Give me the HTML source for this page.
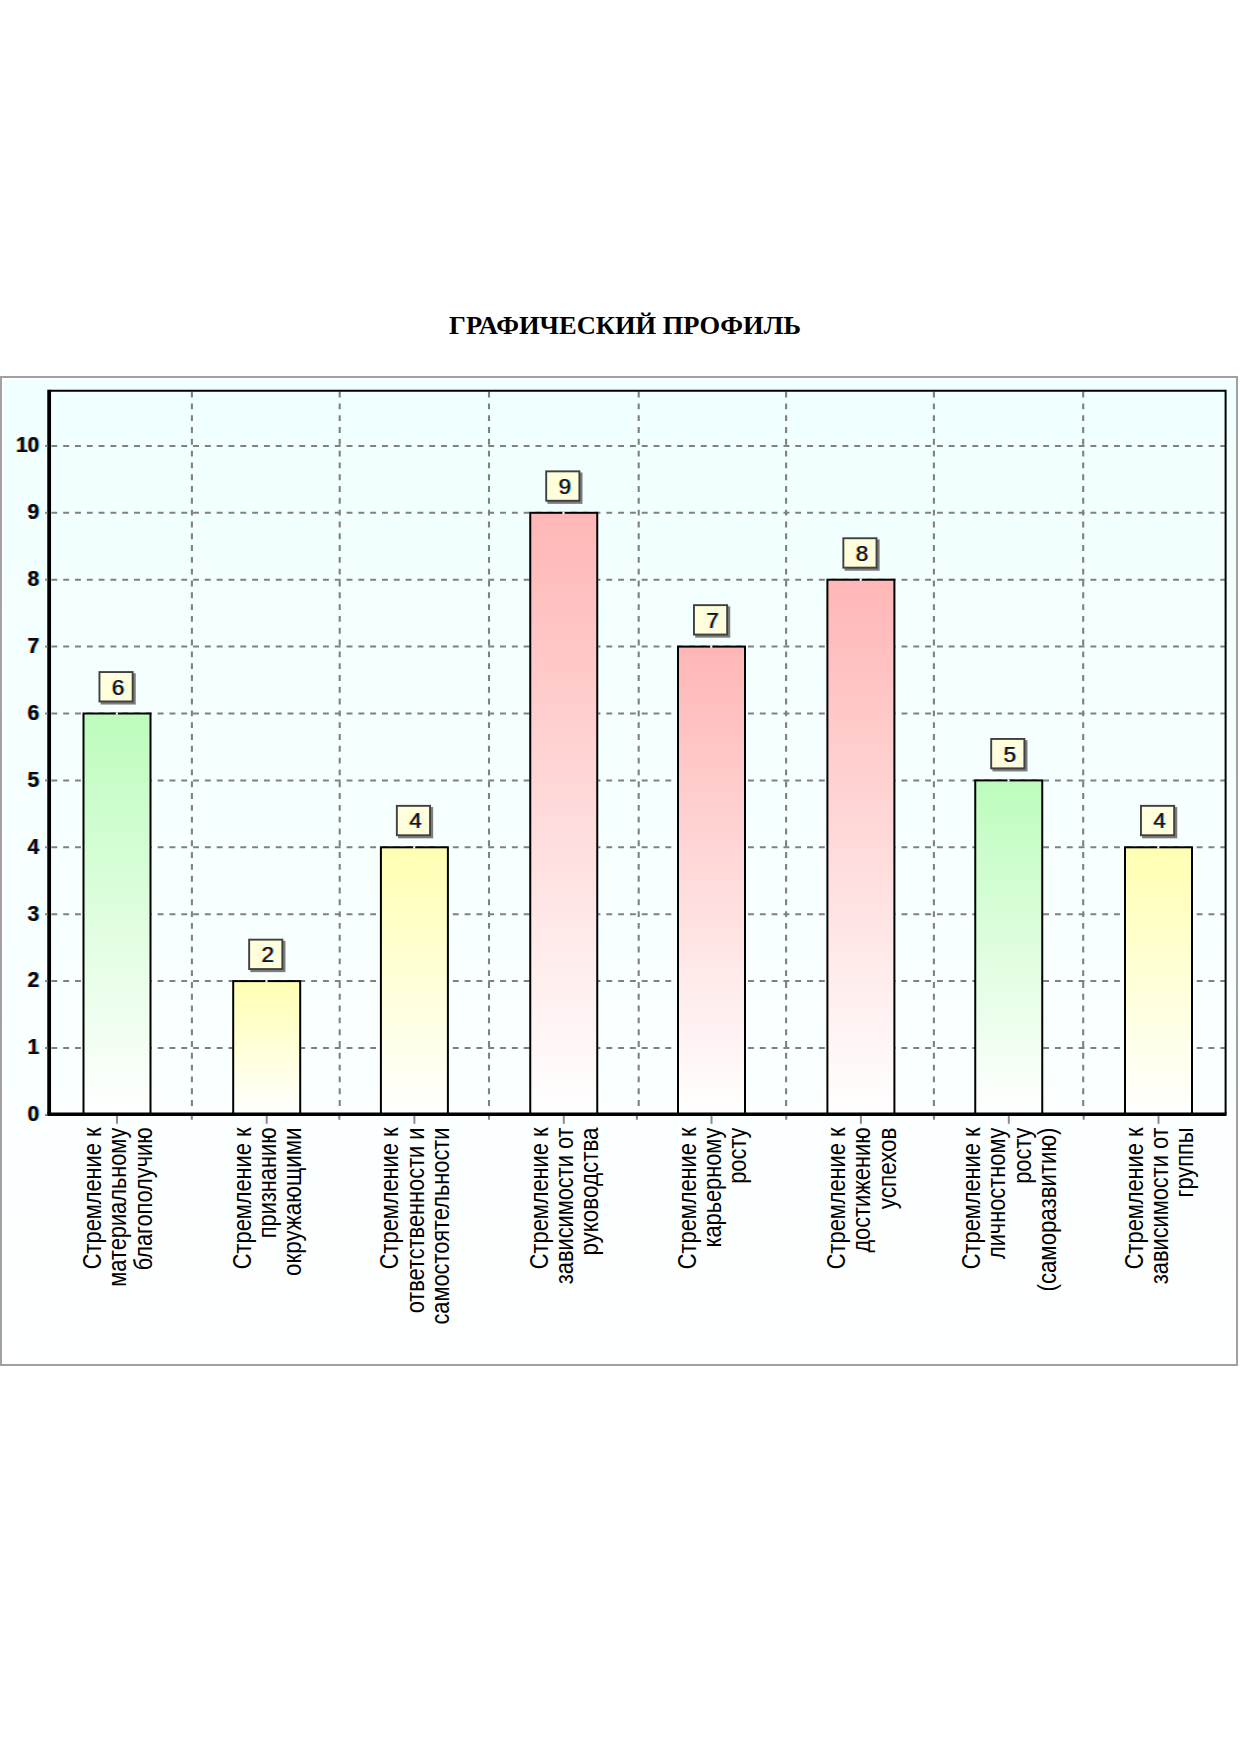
<!DOCTYPE html>
<html lang="ru">
<head>
<meta charset="utf-8">
<title>Графический профиль</title>
<style>
html,body{margin:0;padding:0;background:#fff;}
body{width:1240px;height:1754px;position:relative;overflow:hidden;font-family:"Liberation Sans",sans-serif;}
h1{position:absolute;left:0;top:307.6px;width:1250px;margin:0;text-align:center;font-family:"Liberation Serif",serif;font-weight:bold;font-size:25.4px;line-height:34px;color:#000;white-space:nowrap;transform:scaleX(1.043);transform-origin:625px 0;}
svg{position:absolute;left:0;top:0;}
.yl{font-family:"Liberation Sans",sans-serif;font-weight:bold;font-size:21.5px;fill:#0a0a14;text-anchor:end;}
.vl{font-family:"Liberation Sans",sans-serif;font-size:22.4px;fill:#101018;text-anchor:middle;}
.xl{font-family:"Liberation Sans",sans-serif;font-size:21.8px;fill:#000;text-anchor:end;}
.fo{fill:#f5a030 !important;fill-opacity:.85;}
.fb{fill:#3aa0f0 !important;fill-opacity:.85;}
.gh{stroke:#808080;stroke-width:2;stroke-dasharray:5.9 5.907;fill:none;}
.gv{stroke:#808080;stroke-width:2.1;stroke-dasharray:5.9 5.908;fill:none;}
.tk{stroke:#8a8a8a;stroke-width:2;fill:none;}
.bar{stroke:#000;stroke-width:2;}
.box{fill:#fefedd;stroke:#404040;stroke-width:1.9;}
.sh{fill:#7d7d7d;}
</style>
</head>
<body>
<h1>ГРАФИЧЕСКИЙ ПРОФИЛЬ</h1>
<svg width="1240" height="1754" viewBox="0 0 1240 1754">
<defs>
<linearGradient id="bg" x1="0" y1="0" x2="0" y2="1"><stop offset="0" stop-color="#f0ffff"/><stop offset="1" stop-color="#ffffff"/></linearGradient>
<linearGradient id="g" x1="0" y1="0" x2="0" y2="1"><stop offset="0" stop-color="#bdfcbd"/><stop offset="1" stop-color="#ffffff"/></linearGradient>
<linearGradient id="y" x1="0" y1="0" x2="0" y2="1"><stop offset="0" stop-color="#ffffb2"/><stop offset="1" stop-color="#ffffff"/></linearGradient>
<linearGradient id="r" x1="0" y1="0" x2="0" y2="1"><stop offset="0" stop-color="#ffb6b6"/><stop offset="1" stop-color="#ffffff"/></linearGradient>
</defs>
<!-- panel -->
<rect x="1" y="377" width="1236" height="988" fill="url(#bg)" stroke="#a0a0a0" stroke-width="2"/>
<path d="M2.7 1364V378.7H1236" fill="none" stroke="#ffffff" stroke-width="1.5"/>

<!-- grid -->
<path class="gh" d="M51.4 1048.0H1225"/>
<path class="gh" d="M51.4 981.1H1225"/>
<path class="gh" d="M51.4 914.2H1225"/>
<path class="gh" d="M51.4 847.3H1225"/>
<path class="gh" d="M51.4 780.4H1225"/>
<path class="gh" d="M51.4 713.5H1225"/>
<path class="gh" d="M51.4 646.6H1225"/>
<path class="gh" d="M51.4 579.7H1225"/>
<path class="gh" d="M51.4 512.8H1225"/>
<path class="gh" d="M51.4 445.9H1225"/>
<path class="gv" d="M191.9 391.6V1112"/>
<path class="tk" d="M191.8 1116V1119.7" style="stroke:#808080;stroke-width:2.1"/>
<path class="gv" d="M339.7 391.6V1112"/>
<path class="tk" d="M339.3 1116V1119.7" style="stroke:#808080;stroke-width:2.1"/>
<path class="gv" d="M489.0 391.6V1112"/>
<path class="tk" d="M489.0 1116V1119.7" style="stroke:#808080;stroke-width:2.1"/>
<path class="gv" d="M638.7 391.6V1112"/>
<path class="tk" d="M636.9 1116V1119.7" style="stroke:#808080;stroke-width:2.1"/>
<path class="gv" d="M786.1 391.6V1112"/>
<path class="tk" d="M786.2 1116V1119.7" style="stroke:#808080;stroke-width:2.1"/>
<path class="gv" d="M933.9 391.6V1112"/>
<path class="tk" d="M934.0 1116V1119.7" style="stroke:#808080;stroke-width:2.1"/>
<path class="gv" d="M1083.2 391.6V1112"/>
<path class="tk" d="M1083.7 1116V1119.7" style="stroke:#808080;stroke-width:2.1"/>
<!-- bars -->
<rect class="bar" x="83.50" y="713.5" width="67.0" height="400.5" fill="url(#g)"/>
<rect class="bar" x="233.20" y="981.1" width="67.0" height="132.9" fill="url(#y)"/>
<rect class="bar" x="380.90" y="847.3" width="67.0" height="266.7" fill="url(#y)"/>
<rect class="bar" x="530.25" y="512.8" width="67.0" height="601.2" fill="url(#r)"/>
<rect class="bar" x="678.00" y="646.6" width="67.0" height="467.4" fill="url(#r)"/>
<rect class="bar" x="827.40" y="579.7" width="67.0" height="534.3" fill="url(#r)"/>
<rect class="bar" x="975.25" y="780.4" width="67.0" height="333.6" fill="url(#g)"/>
<rect class="bar" x="1125.00" y="847.3" width="67.0" height="266.7" fill="url(#y)"/>
<!-- axes -->
<path d="M49.15 390.75H1225.6V1114" fill="none" stroke="#000" stroke-width="2"/>
<path d="M49.15 389.8V1116" fill="none" stroke="#000" stroke-width="3.8"/>
<path d="M47.3 1114.25H1226.6" fill="none" stroke="#000" stroke-width="3.6"/>
<path class="tk" d="M45 1115.0H47.4"/>
<text class="yl fo" transform="translate(38.3 1121.2) scale(0.97 1)">0</text>
<text class="yl fb" transform="translate(40.1 1121.2) scale(0.97 1)">0</text>
<text class="yl" transform="translate(39.2 1121.2) scale(0.97 1)">0</text>
<path class="tk" d="M45 1048.0H47.4"/>
<text class="yl fo" transform="translate(38.3 1054.3) scale(0.97 1)">1</text>
<text class="yl fb" transform="translate(40.1 1054.3) scale(0.97 1)">1</text>
<text class="yl" transform="translate(39.2 1054.3) scale(0.97 1)">1</text>
<path class="tk" d="M45 981.1H47.4"/>
<text class="yl fo" transform="translate(38.3 987.4) scale(0.97 1)">2</text>
<text class="yl fb" transform="translate(40.1 987.4) scale(0.97 1)">2</text>
<text class="yl" transform="translate(39.2 987.4) scale(0.97 1)">2</text>
<path class="tk" d="M45 914.2H47.4"/>
<text class="yl fo" transform="translate(38.3 920.5) scale(0.97 1)">3</text>
<text class="yl fb" transform="translate(40.1 920.5) scale(0.97 1)">3</text>
<text class="yl" transform="translate(39.2 920.5) scale(0.97 1)">3</text>
<path class="tk" d="M45 847.3H47.4"/>
<text class="yl fo" transform="translate(38.3 853.6) scale(0.97 1)">4</text>
<text class="yl fb" transform="translate(40.1 853.6) scale(0.97 1)">4</text>
<text class="yl" transform="translate(39.2 853.6) scale(0.97 1)">4</text>
<path class="tk" d="M45 780.4H47.4"/>
<text class="yl fo" transform="translate(38.3 786.7) scale(0.97 1)">5</text>
<text class="yl fb" transform="translate(40.1 786.7) scale(0.97 1)">5</text>
<text class="yl" transform="translate(39.2 786.7) scale(0.97 1)">5</text>
<path class="tk" d="M45 713.5H47.4"/>
<text class="yl fo" transform="translate(38.3 719.8) scale(0.97 1)">6</text>
<text class="yl fb" transform="translate(40.1 719.8) scale(0.97 1)">6</text>
<text class="yl" transform="translate(39.2 719.8) scale(0.97 1)">6</text>
<path class="tk" d="M45 646.6H47.4"/>
<text class="yl fo" transform="translate(38.3 652.9) scale(0.97 1)">7</text>
<text class="yl fb" transform="translate(40.1 652.9) scale(0.97 1)">7</text>
<text class="yl" transform="translate(39.2 652.9) scale(0.97 1)">7</text>
<path class="tk" d="M45 579.7H47.4"/>
<text class="yl fo" transform="translate(38.3 586.0) scale(0.97 1)">8</text>
<text class="yl fb" transform="translate(40.1 586.0) scale(0.97 1)">8</text>
<text class="yl" transform="translate(39.2 586.0) scale(0.97 1)">8</text>
<path class="tk" d="M45 512.8H47.4"/>
<text class="yl fo" transform="translate(38.3 519.1) scale(0.97 1)">9</text>
<text class="yl fb" transform="translate(40.1 519.1) scale(0.97 1)">9</text>
<text class="yl" transform="translate(39.2 519.1) scale(0.97 1)">9</text>
<path class="tk" d="M45 445.9H47.4"/>
<text class="yl fo" transform="translate(38.3 452.2) scale(0.97 1)">10</text>
<text class="yl fb" transform="translate(40.1 452.2) scale(0.97 1)">10</text>
<text class="yl" transform="translate(39.2 452.2) scale(0.97 1)">10</text>
<path class="tk" d="M117.0 1116V1123.8"/>
<path class="tk" d="M266.7 1116V1123.8"/>
<path class="tk" d="M414.4 1116V1123.8"/>
<path class="tk" d="M563.8 1116V1123.8"/>
<path class="tk" d="M711.5 1116V1123.8"/>
<path class="tk" d="M860.9 1116V1123.8"/>
<path class="tk" d="M1008.8 1116V1123.8"/>
<path class="tk" d="M1158.5 1116V1123.8"/>
<!-- value marks -->
<rect class="sh" x="100.65" y="673.25" width="35.10" height="31.30"/>
<rect class="box" x="99.45" y="672.05" width="33.20" height="29.40"/>
<path d="M116.8 705.5V712.5" stroke="#fff" stroke-width="2.1" stroke-opacity="0.6"/>
<path d="M116.8 712.5V714.7" stroke="#fff" stroke-width="2.1"/>
<text class="vl fo" transform="translate(117.1 694.6) scale(1.0 1)">6</text>
<text class="vl fb" transform="translate(118.9 694.6) scale(1.0 1)">6</text>
<text class="vl" transform="translate(118.0 694.6) scale(1.0 1)">6</text>
<rect class="sh" x="250.35" y="940.85" width="35.10" height="31.30"/>
<rect class="box" x="249.15" y="939.65" width="33.20" height="29.40"/>
<path d="M266.5 973.1V980.1" stroke="#fff" stroke-width="2.1" stroke-opacity="0.6"/>
<path d="M266.5 980.1V982.3" stroke="#fff" stroke-width="2.1"/>
<text class="vl fo" transform="translate(266.8 962.2) scale(1.0 1)">2</text>
<text class="vl fb" transform="translate(268.6 962.2) scale(1.0 1)">2</text>
<text class="vl" transform="translate(267.7 962.2) scale(1.0 1)">2</text>
<rect class="sh" x="398.05" y="807.05" width="35.10" height="31.30"/>
<rect class="box" x="396.85" y="805.85" width="33.20" height="29.40"/>
<path d="M414.2 839.3V846.3" stroke="#fff" stroke-width="2.1" stroke-opacity="0.6"/>
<path d="M414.2 846.3V848.5" stroke="#fff" stroke-width="2.1"/>
<text class="vl fo" transform="translate(414.5 828.4) scale(1.0 1)">4</text>
<text class="vl fb" transform="translate(416.3 828.4) scale(1.0 1)">4</text>
<text class="vl" transform="translate(415.4 828.4) scale(1.0 1)">4</text>
<rect class="sh" x="547.40" y="472.55" width="35.10" height="31.30"/>
<rect class="box" x="546.20" y="471.35" width="33.20" height="29.40"/>
<path d="M563.5 504.8V511.8" stroke="#fff" stroke-width="2.1" stroke-opacity="0.6"/>
<path d="M563.5 511.8V514.0" stroke="#fff" stroke-width="2.1"/>
<text class="vl fo" transform="translate(563.9 493.9) scale(1.0 1)">9</text>
<text class="vl fb" transform="translate(565.6 493.9) scale(1.0 1)">9</text>
<text class="vl" transform="translate(564.8 493.9) scale(1.0 1)">9</text>
<rect class="sh" x="695.15" y="606.35" width="35.10" height="31.30"/>
<rect class="box" x="693.95" y="605.15" width="33.20" height="29.40"/>
<path d="M711.3 638.6V645.6" stroke="#fff" stroke-width="2.1" stroke-opacity="0.6"/>
<path d="M711.3 645.6V647.8" stroke="#fff" stroke-width="2.1"/>
<text class="vl fo" transform="translate(711.6 627.7) scale(1.0 1)">7</text>
<text class="vl fb" transform="translate(713.4 627.7) scale(1.0 1)">7</text>
<text class="vl" transform="translate(712.5 627.7) scale(1.0 1)">7</text>
<rect class="sh" x="844.55" y="539.45" width="35.10" height="31.30"/>
<rect class="box" x="843.35" y="538.25" width="33.20" height="29.40"/>
<path d="M860.7 571.7V578.7" stroke="#fff" stroke-width="2.1" stroke-opacity="0.6"/>
<path d="M860.7 578.7V580.9" stroke="#fff" stroke-width="2.1"/>
<text class="vl fo" transform="translate(861.0 560.8) scale(1.0 1)">8</text>
<text class="vl fb" transform="translate(862.8 560.8) scale(1.0 1)">8</text>
<text class="vl" transform="translate(861.9 560.8) scale(1.0 1)">8</text>
<rect class="sh" x="992.40" y="740.15" width="35.10" height="31.30"/>
<rect class="box" x="991.20" y="738.95" width="33.20" height="29.40"/>
<path d="M1008.5 772.4V779.4" stroke="#fff" stroke-width="2.1" stroke-opacity="0.6"/>
<path d="M1008.5 779.4V781.6" stroke="#fff" stroke-width="2.1"/>
<text class="vl fo" transform="translate(1008.9 761.5) scale(1.0 1)">5</text>
<text class="vl fb" transform="translate(1010.6 761.5) scale(1.0 1)">5</text>
<text class="vl" transform="translate(1009.8 761.5) scale(1.0 1)">5</text>
<rect class="sh" x="1142.15" y="807.05" width="35.10" height="31.30"/>
<rect class="box" x="1140.95" y="805.85" width="33.20" height="29.40"/>
<path d="M1158.3 839.3V846.3" stroke="#fff" stroke-width="2.1" stroke-opacity="0.6"/>
<path d="M1158.3 846.3V848.5" stroke="#fff" stroke-width="2.1"/>
<text class="vl fo" transform="translate(1158.6 828.4) scale(1.0 1)">4</text>
<text class="vl fb" transform="translate(1160.4 828.4) scale(1.0 1)">4</text>
<text class="vl" transform="translate(1159.5 828.4) scale(1.0 1)">4</text>
<!-- category labels -->
<text class="xl" transform="translate(101.0 1127.5) scale(1.18 1) rotate(-90)">Стремление к</text>
<text class="xl" transform="translate(126.3 1127.5) scale(1.18 1) rotate(-90)">материальному</text>
<text class="xl" transform="translate(151.6 1127.5) scale(1.18 1) rotate(-90)">благополучию</text>
<text class="xl" transform="translate(250.7 1127.5) scale(1.18 1) rotate(-90)">Стремление к</text>
<text class="xl" transform="translate(276.0 1127.5) scale(1.18 1) rotate(-90)">признанию</text>
<text class="xl" textLength="148.4" lengthAdjust="spacingAndGlyphs" transform="translate(301.3 1127.5) scale(1.18 1) rotate(-90)">окружающими</text>
<text class="xl" transform="translate(398.4 1127.5) scale(1.18 1) rotate(-90)">Стремление к</text>
<text class="xl" transform="translate(423.7 1127.5) scale(1.18 1) rotate(-90)">ответственности и</text>
<text class="xl" transform="translate(449.0 1127.5) scale(1.18 1) rotate(-90)">самостоятельности</text>
<text class="xl" transform="translate(547.8 1127.5) scale(1.18 1) rotate(-90)">Стремление к</text>
<text class="xl" transform="translate(573.0 1127.5) scale(1.18 1) rotate(-90)">зависимости от</text>
<text class="xl" textLength="128.1" lengthAdjust="spacingAndGlyphs" transform="translate(598.3 1127.5) scale(1.18 1) rotate(-90)">руководства</text>
<text class="xl" transform="translate(695.5 1127.5) scale(1.18 1) rotate(-90)">Стремление к</text>
<text class="xl" transform="translate(720.8 1127.5) scale(1.18 1) rotate(-90)">карьерному</text>
<text class="xl" transform="translate(746.1 1127.5) scale(1.18 1) rotate(-90)">росту</text>
<text class="xl" transform="translate(844.9 1127.5) scale(1.18 1) rotate(-90)">Стремление к</text>
<text class="xl" transform="translate(870.2 1127.5) scale(1.18 1) rotate(-90)">достижению</text>
<text class="xl" textLength="81.7" lengthAdjust="spacingAndGlyphs" transform="translate(895.5 1127.5) scale(1.18 1) rotate(-90)">успехов</text>
<text class="xl" transform="translate(980.1 1127.5) scale(1.18 1) rotate(-90)">Стремление к</text>
<text class="xl" transform="translate(1005.4 1127.5) scale(1.18 1) rotate(-90)">личностному</text>
<text class="xl" transform="translate(1030.7 1127.5) scale(1.18 1) rotate(-90)">росту</text>
<text class="xl" textLength="164.0" lengthAdjust="spacingAndGlyphs" transform="translate(1056.0 1127.5) scale(1.18 1) rotate(-90)">(саморазвитию)</text>
<text class="xl" transform="translate(1142.5 1127.5) scale(1.18 1) rotate(-90)">Стремление к</text>
<text class="xl" transform="translate(1167.8 1127.5) scale(1.18 1) rotate(-90)">зависимости от</text>
<text class="xl" transform="translate(1193.1 1127.5) scale(1.18 1) rotate(-90)">группы</text>
</svg>
</body>
</html>
